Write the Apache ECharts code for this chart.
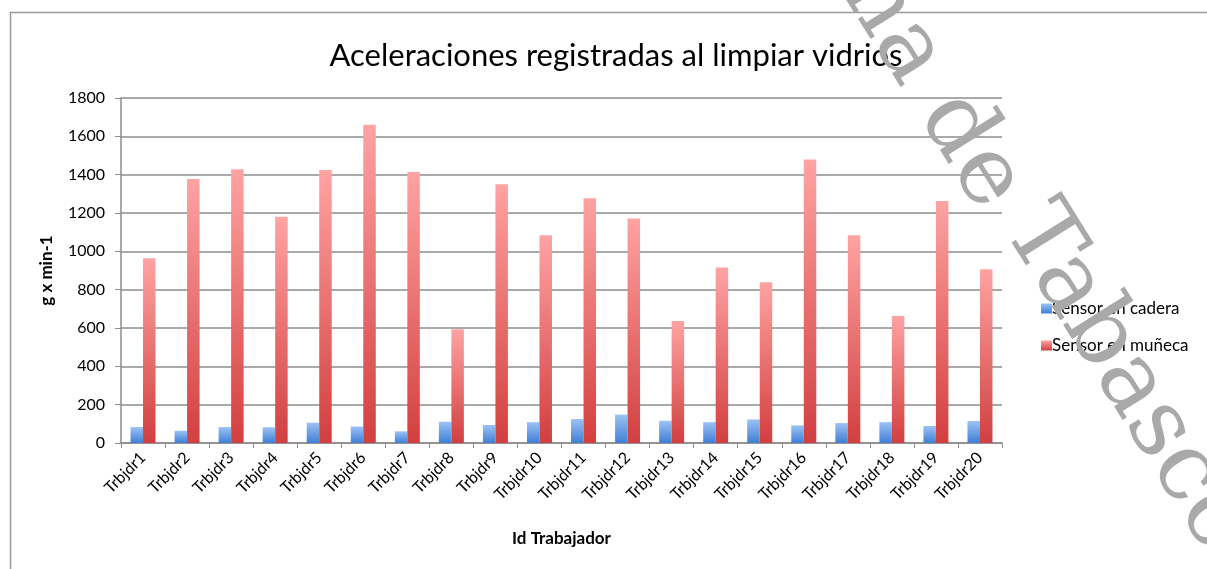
<!DOCTYPE html>
<html><head><meta charset="utf-8">
<script src="https://cdn.jsdelivr.net/npm/echarts@6/dist/echarts.min.js"></script>
<style>html,body{margin:0;padding:0;background:#fff}#c{width:1207px;height:569px}</style>
</head><body><div id="c"></div>
<script>
const categories = ['Trbjdr1','Trbjdr2','Trbjdr3','Trbjdr4','Trbjdr5','Trbjdr6','Trbjdr7','Trbjdr8','Trbjdr9','Trbjdr10','Trbjdr11','Trbjdr12','Trbjdr13','Trbjdr14','Trbjdr15','Trbjdr16','Trbjdr17','Trbjdr18','Trbjdr19','Trbjdr20'];
const cadera = [83,64,83,82,106,86,61,111,94,109,125,148,116,109,123,92,104,109,89,115];
const muneca = [964,1378,1428,1180,1425,1661,1414,593,1350,1084,1277,1171,636,916,839,1479,1084,662,1262,907];
const seriesNames = ['Sensor en cadera','Sensor en muñeca'];
const yTicks = {min:0, max:1800, interval:200};

const font = 'Lato, "Open Sans", sans-serif';
const chart = echarts.init(document.getElementById('c'), null, {renderer:'canvas'});
function grad(top, bottom){
  return new echarts.graphic.LinearGradient(0,0,0,1,[{offset:0,color:top},{offset:1,color:bottom}]);
}
const wmFont = '95px "DejaVu Serif", serif';
const wmRot = -58*Math.PI/180;
chart.setOption({
  animation:false,
  backgroundColor:'#fff',
  title:{text:'Aceleraciones registradas al limpiar vidrios', left:611, top:35, textAlign:'center',
    textStyle:{fontFamily:font, fontSize:31, fontWeight:'normal', color:'#000'}},
  legend:{orient:'vertical', left:1036, top:295, itemWidth:11, itemHeight:10, itemGap:20, icon:'rect',
    textStyle:{fontFamily:font, fontSize:17, color:'#000', padding:[0,0,0,-5]},
    data:seriesNames},
  grid:{left:121, right:205, top:98, bottom:126},
  xAxis:{type:'category', data:categories,
    name:'Id Trabajador', nameLocation:'middle', nameGap:87,
    nameTextStyle:{fontFamily:font, fontSize:17, fontWeight:'bold', color:'#000'},
    axisLine:{lineStyle:{color:'#8c8c8c', width:1.5}},
    axisTick:{show:true, length:5, alignWithLabel:false, lineStyle:{color:'#8c8c8c'}},
    axisLabel:{rotate:45, fontFamily:font, fontSize:16, color:'#000', margin:12, interval:0}},
  yAxis:{type:'value', min:yTicks.min, max:yTicks.max, interval:yTicks.interval,
    name:'g x min-1', nameLocation:'middle', nameGap:66,
    nameTextStyle:{fontFamily:font, fontSize:17, fontWeight:'bold', color:'#000'},
    axisLine:{show:true, lineStyle:{color:'#8c8c8c', width:1.5}},
    axisTick:{show:true, length:6, lineStyle:{color:'#8c8c8c'}},
    axisLabel:{fontFamily:font, fontSize:16, color:'#000', margin:16, formatter:(v)=>String(v)},
    splitLine:{lineStyle:{color:'#8c8c8c', width:1.5}}},
  series:[
    {name:seriesNames[0], type:'bar', data:cadera, barWidth:12.5, barGap:'0%',
      itemStyle:{color:grad('#9cc2f5','#3f7fd4')}},
    {name:seriesNames[1], type:'bar', data:muneca, barWidth:12.5, barGap:'0%',
      itemStyle:{color:grad('#ffa3a3','#d23f3f')}}
  ],
  graphic:[
    {type:'rect', shape:{x:10.5, y:12.5, width:1300, height:700}, style:{fill:'none', stroke:'#9a9a9a', lineWidth:1.5}, z:-1, silent:true},
    {type:'text', x:1023, y:214, rotation:wmRot, z:100, silent:true,
      style:{text:'Tabasco', fill:'#a9a9a9', font:wmFont, textAlign:'left', textVerticalAlign:'middle'}},
    {type:'text', x:1001, y:201, rotation:wmRot, z:100, silent:true,
      style:{text:'Autónoma de', fill:'#a9a9a9', font:wmFont, textAlign:'right', textVerticalAlign:'middle'}}
  ]
});
</script></body></html>
